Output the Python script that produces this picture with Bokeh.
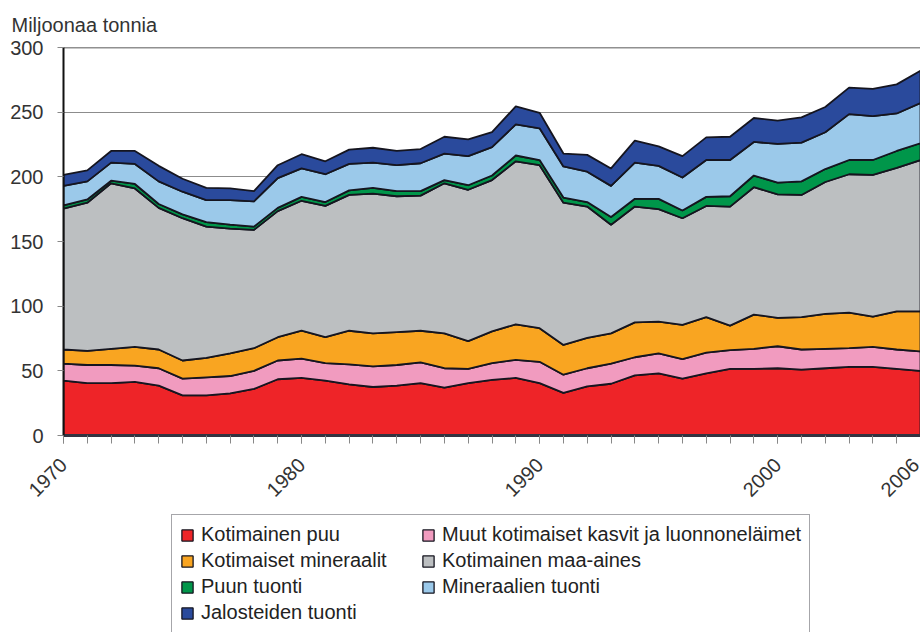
import math
import numpy as np
from bokeh.plotting import figure
from bokeh.layouts import column
from bokeh.models import Range1d, FixedTicker, Legend, LegendItem, Span
from bokeh.embed import file_html
from bokeh.resources import INLINE

years = list(range(1970, 2007))

kotimainen_puu = [42.5, 40.5, 40.5, 41.5, 38.5, 31, 31, 32.5, 36, 43.5,
                  44.5, 42.5, 39.5, 37.5, 38.5, 40.5, 37, 40.5, 43, 44.5,
                  40.5, 33, 38, 40, 46.5, 48, 44, 48, 51.5, 51.5,
                  52, 51, 52, 53, 53, 51.5, 50]
muut_kasvit = [13, 14, 14, 12.5, 13.5, 13, 14, 13.5, 14, 14.5,
               15, 13.5, 15.5, 16, 16, 16, 15, 11, 13, 14,
               16.5, 14, 14, 15.5, 14, 15.5, 15, 16, 14.5, 15.5,
               17, 15.5, 15, 14.5, 15.5, 15, 15]
kotimaiset_mineraalit = [11, 11, 12.5, 14.5, 14.5, 14, 15, 17.5, 17.5, 18,
                         21.5, 20, 26, 25.5, 25.5, 24.5, 27, 21.5, 24.5, 27.5,
                         26, 23, 23.5, 23.5, 27, 24.5, 26.5, 27.5, 19, 26.5,
                         22, 25, 27, 27.5, 23.5, 29.5, 31]
kotimainen_maa_aines = [109, 114.5, 128, 122.5, 109.5, 110, 101.5, 96.5, 91.5, 97.5,
                        100.5, 101.5, 105, 108, 105, 104.5, 116, 117, 117, 126,
                        126, 110, 101.5, 84, 89.5, 87, 82.5, 86, 92, 98.5,
                        95.5, 94.5, 102, 107, 109.5, 111, 117]
puun_tuonti = [2.5, 2.5, 2, 3.5, 3, 3, 3.5, 3, 2.5, 2.5,
               3, 3, 3.5, 4.5, 4, 3.5, 2.5, 3.5, 3.5, 4.5,
               4, 4, 3.5, 6, 6, 8, 6, 7, 8, 9,
               9, 10.5, 10, 11, 11.5, 13, 13]
mineraalien_tuonti = [15, 14, 14, 15.5, 17.5, 17.5, 17, 19, 19.5, 23,
                      22, 21.5, 20.5, 19.5, 20, 21.5, 20.5, 22.5, 22, 24,
                      24.5, 24, 23.5, 24, 28, 25.5, 25.5, 28.5, 28, 26,
                      30, 30, 28.5, 35.5, 34, 29, 31]
jalosteiden_tuonti = [8.5, 8.5, 9, 10, 12, 10, 9.5, 9, 8, 10,
                      11, 10, 11, 11.5, 11, 11, 13, 13, 11.5, 14,
                      12, 10, 13, 13.5, 17, 15, 16.5, 17.5, 18, 18.5,
                      18, 19.5, 19.5, 20.5, 21, 22.5, 25]

names = ["Kotimainen puu", "Muut kotimaiset kasvit ja luonnoneläimet",
         "Kotimaiset mineraalit", "Kotimainen maa-aines", "Puun tuonti",
         "Mineraalien tuonti", "Jalosteiden tuonti"]
values = [kotimainen_puu, muut_kasvit, kotimaiset_mineraalit, kotimainen_maa_aines,
          puun_tuonti, mineraalien_tuonti, jalosteiden_tuonti]
colors = ["#EE2428", "#F19BBF", "#F9A521", "#BCBFC1", "#00964A", "#9BC9EA", "#2A4A9C"]

y_ticks = [0, 50, 100, 150, 200, 250, 300]
x_label_ticks = [1970, 1980, 1990, 2000, 2006]
unit_title = "Miljoonaa tonnia"

FONT = "Liberation Sans"
TXT = "#333333"
EDGE = "#15151f"

# ---------------- main chart ----------------
p = figure(width=920, height=510, x_range=Range1d(1970, 2006), y_range=Range1d(0, 300),
           output_backend="svg", toolbar_location=None,
           min_border_left=63, min_border_right=0, min_border_top=47, min_border_bottom=75)
p.outline_line_color = None
p.background_fill_color = "white"
p.border_fill_color = "white"

p.title.text = unit_title
p.title.align = "left"
p.title.vertical_align = "top"
p.title.offset = -52
p.title.standoff = 19
p.title.text_font = FONT
p.title.text_font_size = "20px"
p.title.text_font_style = "normal"
p.title.text_color = TXT

stacks = []
bottom = np.zeros(len(years))
for vals in values:
    top = bottom + np.array(vals, dtype=float)
    stacks.append((list(top), list(bottom)))
    bottom = top

for (top, bot), col in zip(stacks, colors):
    p.patch(years + years[::-1], top + bot[::-1], fill_color=col,
            line_color=EDGE, line_width=1.8, line_join="round")

p.add_layout(Span(location=300, dimension="width", line_color="#222222", line_width=1.5))

p.xgrid.visible = False
p.ygrid.ticker = FixedTicker(ticks=y_ticks)
p.ygrid.grid_line_color = "#8c8c8c"
p.ygrid.grid_line_width = 1

ya = p.yaxis[0]
ya.ticker = FixedTicker(ticks=y_ticks, minor_ticks=[])
ya.major_tick_out = 6
ya.major_tick_in = 0
ya.minor_tick_out = 0
ya.minor_tick_in = 0
ya.major_tick_line_color = "#888888"
ya.axis_line_color = "#111111"
ya.axis_line_width = 2
ya.major_label_standoff = 14
ya.major_label_text_font = FONT
ya.major_label_text_font_size = "20px"
ya.major_label_text_color = TXT

xa = p.xaxis[0]
xa.ticker = FixedTicker(ticks=x_label_ticks, minor_ticks=years)
xa.major_tick_out = 8
xa.major_tick_in = 0
xa.minor_tick_out = 8
xa.minor_tick_in = 0
xa.major_tick_line_color = "#888888"
xa.minor_tick_line_color = "#888888"
xa.axis_line_color = "#333340"
xa.axis_line_width = 3
xa.major_label_orientation = math.pi / 4
xa.major_label_standoff = 18
xa.major_label_text_font = FONT
xa.major_label_text_font_size = "20px"
xa.major_label_text_color = TXT

# ---------------- legend strip ----------------
lg = figure(width=920, height=122, x_range=Range1d(0, 1), y_range=Range1d(0, 1),
            output_backend="svg", toolbar_location=None,
            x_axis_location=None, y_axis_location=None,
            min_border_left=0, min_border_right=0, min_border_top=0, min_border_bottom=0)
lg.outline_line_color = None
lg.xgrid.visible = False
lg.ygrid.visible = False
lg.background_fill_color = "white"
lg.border_fill_color = "white"

rends = []
for (top, bot), col in zip(stacks, colors):
    # same stacked areas; they lie outside this strip's ranges and only feed the legend
    rends.append(lg.patch(years + years[::-1], top + bot[::-1], fill_color=col,
                          line_color=EDGE, line_width=1.3))

order = [0, 2, 4, 6, 1, 3, 5]
items = [LegendItem(label=names[i], renderers=[rends[i]]) for i in order]
legend = Legend(items=items, location=(108, -1), orientation="vertical", nrows=4, ncols=2,
                label_text_font=FONT, label_text_font_size="20px", label_text_color="#222222",
                glyph_width=14, glyph_height=14, label_standoff=7, spacing=3, padding=8,
                margin=0, label_width=217, border_line_color="#4d4d55", border_line_width=1.5,
                background_fill_color="white", background_fill_alpha=1.0)
lg.add_layout(legend)

layout = column(p, lg, spacing=0)
open("out.html", "w").write(file_html(layout, INLINE))
